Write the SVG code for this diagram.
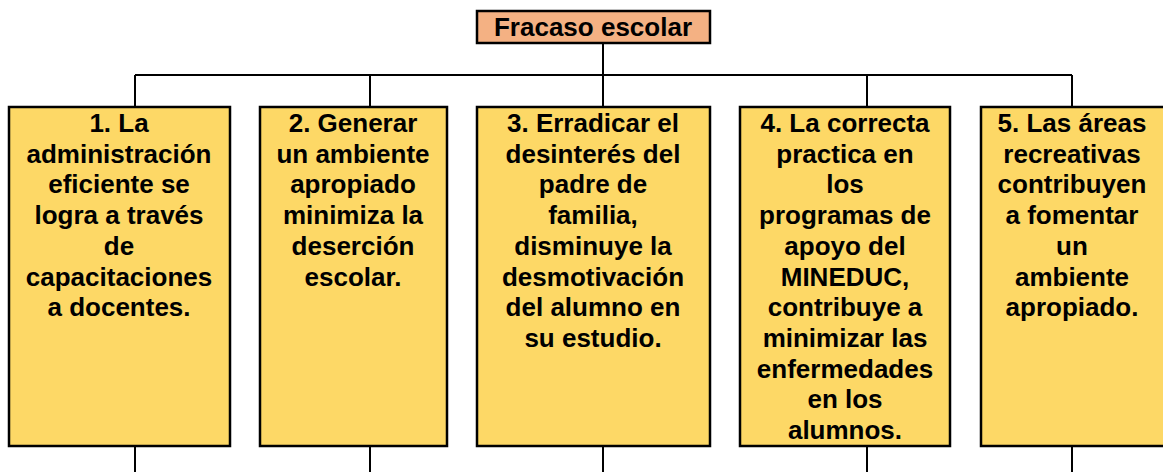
<svg xmlns="http://www.w3.org/2000/svg" width="1163" height="472" viewBox="0 0 1163 472">
<style>
.box{fill:#FDD866;stroke:#000;stroke-width:2.5}
.title{fill:#F4B183;stroke:#000;stroke-width:2.5}
.ln{stroke:#000;stroke-width:2;fill:none}
text{font-family:"Liberation Sans",Arial,sans-serif;font-weight:bold;font-size:26px;fill:#000;text-anchor:middle}
</style>
<rect width="1163" height="472" fill="#fff"/>
<g id="connectors">
<line class="ln" x1="603" y1="43" x2="603" y2="107"/>
<line class="ln" x1="135" y1="75" x2="1072" y2="75"/>
<line class="ln" x1="135" y1="75" x2="135" y2="107"/>
<line class="ln" x1="370" y1="75" x2="370" y2="107"/>
<line class="ln" x1="867" y1="75" x2="867" y2="107"/>
<line class="ln" x1="1072" y1="75" x2="1072" y2="107"/>
<line class="ln" x1="135" y1="446" x2="135" y2="472"/>
<line class="ln" x1="370" y1="446" x2="370" y2="472"/>
<line class="ln" x1="603" y1="446" x2="603" y2="472"/>
<line class="ln" x1="867" y1="446" x2="867" y2="472"/>
<line class="ln" x1="1072" y1="446" x2="1072" y2="472"/>
</g>
<g id="title">
<rect class="title" x="477" y="11" width="233" height="32"/>
<text x="593" y="36">Fracaso escolar</text>
</g>
<g id="node1">
<rect class="box" x="9" y="107" width="221" height="339"/>
<text x="119"><tspan x="119" y="132">1. La</tspan><tspan x="119" y="162.7">administración</tspan><tspan x="119" y="193.4">eficiente se</tspan><tspan x="119" y="224.1">logra a través</tspan><tspan x="119" y="254.8">de</tspan><tspan x="119" y="285.5">capacitaciones</tspan><tspan x="119" y="316.2">a docentes.</tspan></text>
</g>
<g id="node2">
<rect class="box" x="260" y="107" width="187" height="339"/>
<text x="353"><tspan x="353" y="132">2. Generar</tspan><tspan x="353" y="162.7">un ambiente</tspan><tspan x="353" y="193.4">apropiado</tspan><tspan x="353" y="224.1">minimiza la</tspan><tspan x="353" y="254.8">deserción</tspan><tspan x="353" y="285.5">escolar.</tspan></text>
</g>
<g id="node3">
<rect class="box" x="477" y="107" width="233" height="339"/>
<text x="593"><tspan x="593" y="132">3. Erradicar el</tspan><tspan x="593" y="162.7">desinterés del</tspan><tspan x="593" y="193.4">padre de</tspan><tspan x="593" y="224.1">familia,</tspan><tspan x="593" y="254.8">disminuye la</tspan><tspan x="593" y="285.5">desmotivación</tspan><tspan x="593" y="316.2">del alumno en</tspan><tspan x="593" y="346.9">su estudio.</tspan></text>
</g>
<g id="node4">
<rect class="box" x="740" y="107" width="210" height="339"/>
<text x="845"><tspan x="845" y="132">4. La correcta</tspan><tspan x="845" y="162.7">practica en</tspan><tspan x="845" y="193.4">los</tspan><tspan x="845" y="224.1">programas de</tspan><tspan x="845" y="254.8">apoyo del</tspan><tspan x="845" y="285.5">MINEDUC,</tspan><tspan x="845" y="316.2">contribuye a</tspan><tspan x="845" y="346.9">minimizar las</tspan><tspan x="845" y="377.6">enfermedades</tspan><tspan x="845" y="408.3">en los</tspan><tspan x="845" y="439">alumnos.</tspan></text>
</g>
<g id="node5">
<rect class="box" x="981" y="107" width="200" height="339"/>
<text x="1072"><tspan x="1072" y="132">5. Las áreas</tspan><tspan x="1072" y="162.7">recreativas</tspan><tspan x="1072" y="193.4">contribuyen</tspan><tspan x="1072" y="224.1">a fomentar</tspan><tspan x="1072" y="254.8">un</tspan><tspan x="1072" y="285.5">ambiente</tspan><tspan x="1072" y="316.2">apropiado.</tspan></text>
</g>
</svg>
